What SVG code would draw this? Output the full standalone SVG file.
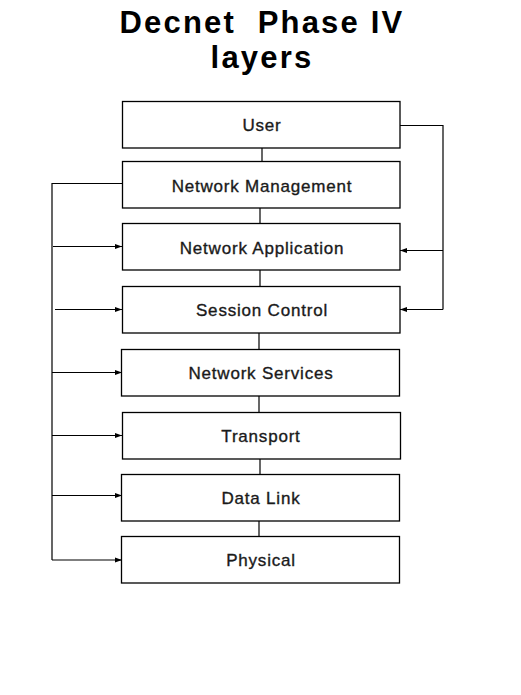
<svg xmlns="http://www.w3.org/2000/svg" width="521" height="695" viewBox="0 0 521 695">
<defs>
<marker id="ah" viewBox="0 0 7 6" refX="7" refY="3" markerWidth="7" markerHeight="6" markerUnits="userSpaceOnUse" orient="auto">
<path d="M0,0.5 L7,3 L0,5.5 Z" fill="#000"/>
</marker>
</defs>
<style>
.box{fill:#fff;stroke:#000;stroke-width:1.3}
.lbl{font-family:"Liberation Sans",Arial,sans-serif;font-size:17px;letter-spacing:0.8px;fill:#1a1a1a;stroke:#1a1a1a;stroke-width:0.35;text-anchor:middle}
.title{font-family:"Liberation Sans",Arial,sans-serif;font-size:31px;font-weight:bold;letter-spacing:2.2px;fill:#000;text-anchor:middle}
.ln{fill:none;stroke:#000;stroke-width:1.2}
</style>
<rect width="521" height="695" fill="#fff"/>
<g id="title">
<text class="title" x="262" y="32.5" xml:space="preserve">Decnet  Phase IV</text>
<text class="title" x="262" y="68">layers</text>
</g>
<g id="connectors">
<line class="ln" x1="262" y1="148" x2="262" y2="161"/>
<line class="ln" x1="260" y1="208" x2="260" y2="223"/>
<line class="ln" x1="260" y1="270" x2="260" y2="286"/>
<line class="ln" x1="259" y1="333" x2="259" y2="349"/>
<line class="ln" x1="259" y1="396" x2="259" y2="412"/>
<line class="ln" x1="260" y1="459" x2="260" y2="474"/>
<line class="ln" x1="259" y1="521" x2="259" y2="536"/>
<polyline class="ln" points="122,183.5 52,183.5 52,560"/>
<line class="ln" x1="53" y1="246.5" x2="122" y2="246.5" marker-end="url(#ah)"/>
<line class="ln" x1="55" y1="309.5" x2="122" y2="309.5" marker-end="url(#ah)"/>
<line class="ln" x1="52" y1="372.5" x2="122" y2="372.5" marker-end="url(#ah)"/>
<line class="ln" x1="52" y1="435.5" x2="122" y2="435.5" marker-end="url(#ah)"/>
<line class="ln" x1="52" y1="495.5" x2="122" y2="495.5" marker-end="url(#ah)"/>
<line class="ln" x1="52" y1="560" x2="122" y2="560" marker-end="url(#ah)"/>
<polyline class="ln" points="400,125.5 443,125.5 443,309.5"/>
<line class="ln" x1="443" y1="250.5" x2="400" y2="250.5" marker-end="url(#ah)"/>
<line class="ln" x1="443" y1="309.5" x2="400" y2="309.5" marker-end="url(#ah)"/>
</g>
<g id="user"><rect class="box" x="122.5" y="101.5" width="277.5" height="46.5"/><text class="lbl" x="262" y="131">User</text></g>
<g id="network-management"><rect class="box" x="122.5" y="161.5" width="277.5" height="46.5"/><text class="lbl" x="262" y="191.5">Network Management</text></g>
<g id="network-application"><rect class="box" x="122.5" y="223.5" width="277.5" height="46.5"/><text class="lbl" x="262" y="253.5">Network Application</text></g>
<g id="session-control"><rect class="box" x="122.5" y="286.5" width="277.5" height="46.5"/><text class="lbl" x="262" y="316">Session Control</text></g>
<g id="network-services"><rect class="box" x="121.5" y="349.5" width="278" height="46.5"/><text class="lbl" x="261" y="379">Network Services</text></g>
<g id="transport"><rect class="box" x="122.5" y="412.5" width="278" height="46.5"/><text class="lbl" x="261" y="442">Transport</text></g>
<g id="data-link"><rect class="box" x="121.5" y="474.5" width="278" height="46.5"/><text class="lbl" x="261" y="504">Data Link</text></g>
<g id="physical"><rect class="box" x="121.5" y="536.5" width="278" height="46.5"/><text class="lbl" x="261" y="566">Physical</text></g>
</svg>
